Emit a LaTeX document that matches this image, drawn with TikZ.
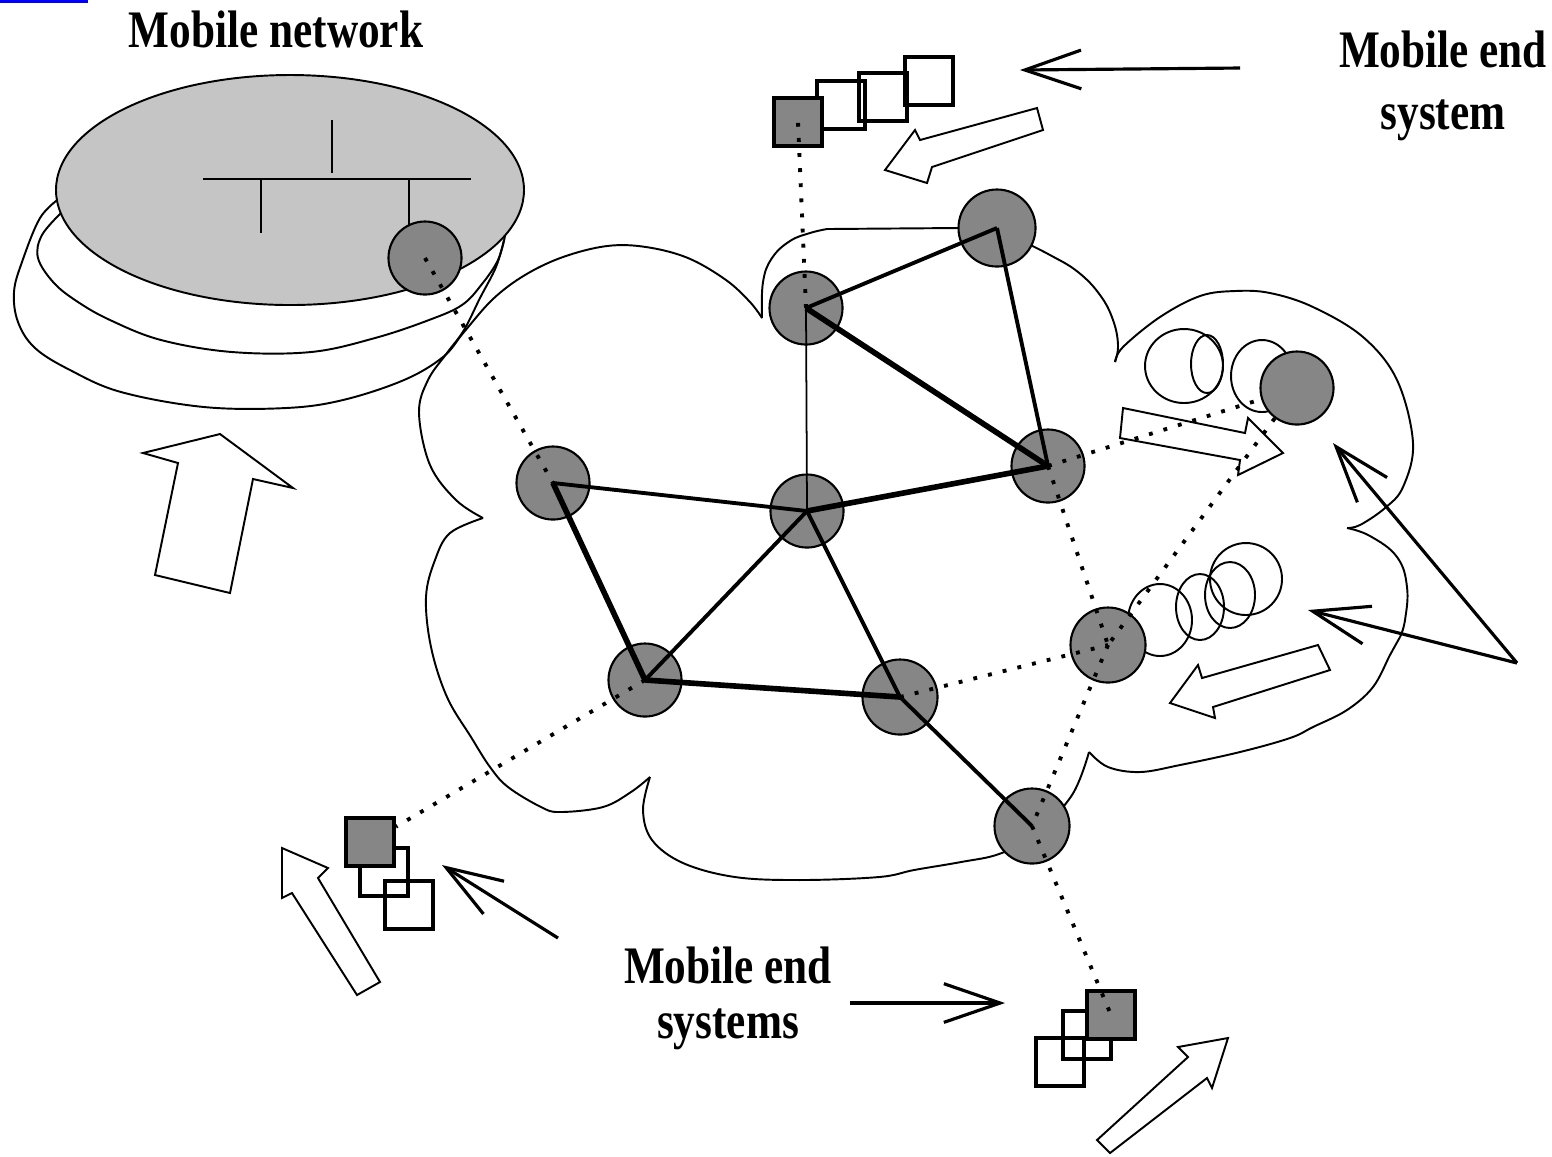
\documentclass[tikz,border=0pt]{standalone}
\usepackage{fontspec}
\newfontfamily\lblfont[FakeStretch=0.82]{Liberation Serif}
\usetikzlibrary{arrows.meta}
\definecolor{nodegray}{RGB}{134,134,134}
\definecolor{netgray}{RGB}{197,197,197}
\tikzset{
	netnode/.style={circle, draw, line width=0.6pt, fill=nodegray, minimum size=0.73cm, inner sep=0pt},
	endsys/.style={rectangle, draw, line width=1.1pt, minimum size=0.48cm, inner sep=0pt},
	cloudline/.style={line width=0.55pt},
	linkthin/.style={line width=0.5pt},
	link/.style={line width=1.1pt},
	linkthick/.style={line width=1.6pt},
	dotlink/.style={line width=1.1pt, dash pattern=on 1.1pt off 3.2pt},
	thinarrow/.style={line width=0.9pt, -{Straight Barb[length=16pt,width=11pt]}},
	blockarrow/.style={line width=0.55pt, line join=miter},
	lbl/.style={font={\lblfont\bfseries\fontsize{15}{17.5}\selectfont}, align=center, inner sep=0pt},
}

\begin{document}
\begin{tikzpicture}[x=0.01cm, y=-0.01cm]
		%%%%% START %%%%%
		\useasboundingbox (0,0) rectangle (1552,1156);
		\fill[blue] (0,0) rectangle (88,3);
		
		% mobile network
		\draw[cloudline] plot[smooth, tension=0.6] coordinates {(62,212) (42,235) (38,258) (54,283) (78,302) (110,320) (161,340) (232,352) (311,352) (375,338) (429,320) (462,305) (482,284) (498,260) (505,236)};
		\draw[cloudline] plot[smooth, tension=0.6] coordinates {(60,198) (40,218) (22,262) (14,292) (18,322) (35,348) (70,370) (121,392) (204,407) (286,408) (343,400) (404,380) (443,357) (464,332) (493,299) (525,275) (563,257) (607,246) (646,247) (688,258) (726,280) (750,302) (762,318)};
		\draw[line width=0.55pt, fill=netgray] (290,190) ellipse [x radius=234, y radius=115];
		\draw[line width=0.8pt] (203,179) -- (471,179);
		\draw[line width=0.8pt] (332,120) -- (332,173);
		\draw[line width=0.8pt] (261,179) -- (261,233);
		\draw[line width=0.8pt] (409,179) -- (409,226);
		
		% cloud
		\draw[cloudline] plot[smooth, tension=0.7] coordinates {(762,318) (763,282) (772,258) (790,241) (810,233) (827,229)} -- (958,228);
		\draw[cloudline] plot[smooth, tension=0.7] coordinates {(1020,240) (1050,255) (1078,272) (1100,295) (1113,320) (1118,345) (1115,362)};
		\draw[cloudline] plot[smooth, tension=0.6] coordinates {(1115,362) (1123,347) (1160,317) (1200,296) (1235,291) (1270,293) (1313,307) (1363,337) (1397,380) (1413,443) (1403,487) (1385,508) (1360,525) (1347,528)};
		\draw[cloudline] plot[smooth, tension=0.7] coordinates {(1347,528) (1370,536) (1397,557) (1407,587) (1405,620) (1400,637)};
		\draw[cloudline] plot[smooth, tension=0.6] coordinates {(1400,637) (1390,655) (1373,687) (1347,710) (1313,727) (1290,738) (1240,752) (1180,765) (1140,772) (1108,767) (1089,752)};
		\draw[cloudline] plot[smooth, tension=0.6] coordinates {(1089,752) (1072,795) (1035,835) (999,854) (961,862) (914,870) (879,877) (800,880) (735,877) (683,863) (652,840) (643,810) (650,777)};
		\draw[cloudline] plot[smooth, tension=0.6] coordinates {(650,777) (631,792) (603,807) (560,812) (541,807) (508,787) (490,767) (471,737) (447,697) (431,647) (426,597) (435,560) (450,533) (483,518)};
		\draw[cloudline] plot[smooth, tension=0.6] coordinates {(483,518) (456,500) (430,465) (419,413) (428,380) (447,353) (464,330) (480,298) (496,267) (504,240)};
		
		% rings
		\draw[cloudline] (1184,366) ellipse [x radius=39, y radius=37];
		\draw[cloudline] (1207,364) ellipse [x radius=16, y radius=29];
		\draw[cloudline] (1262,376) ellipse [x radius=31, y radius=36];
		\draw[cloudline] (1160,620) ellipse [x radius=32, y radius=36];
		\draw[cloudline] (1200,607) ellipse [x radius=24, y radius=33];
		\draw[cloudline] (1230,595) ellipse [x radius=25, y radius=33];
		\draw[cloudline] (1246,579) ellipse [x radius=36, y radius=36];
		
		% block arrows
		\draw[blockarrow] (220,434) -- (293,488) -- (253,479) -- (230,593) -- (155,575) -- (178,463) -- (143,453) -- cycle;
		\draw[blockarrow] (885,170) -- (915,130) -- (920,140) -- (1037,108) -- (1043,130) -- (932,167) -- (927,183) -- cycle;
		\draw[blockarrow] (1123,408) -- (1245,433) -- (1248,418) -- (1283,453) -- (1238,475) -- (1240,460) -- (1120,438) -- cycle;
		\draw[blockarrow] (1170,703) -- (1198,665) -- (1202,678) -- (1318,645) -- (1330,670) -- (1213,707) -- (1215,718) -- cycle;
		\draw[blockarrow] (282,848) -- (328,868) -- (318,878) -- (380,982) -- (357,995) -- (292,893) -- (282,898) -- cycle;
		\draw[blockarrow] (1228,1038) -- (1178,1047) -- (1188,1057) -- (1097,1140) -- (1110,1153) -- (1207,1078) -- (1212,1088) -- cycle;
		
		% nodes
		\node[netnode] (K) at (425,258) {};
		\node[netnode] (A) at (806,308) {};
		\node[netnode, minimum size=0.77cm] (B) at (997,228) {};
		\node[netnode] (C) at (1048,466) {};
		\node[netnode] (D) at (807,511) {};
		\node[netnode] (E) at (553,483) {};
		\node[netnode] (F) at (645,680) {};
		\node[netnode, minimum size=0.75cm] (G) at (900,697) {};
		\node[netnode, minimum size=0.75cm] (H) at (1108,645) {};
		\node[netnode, minimum size=0.75cm] (I) at (1032,826) {};
		\node[netnode] (J) at (1297,388) {};
		
		% links
		\draw[link] (A.center) -- (B.center);
		\draw[linkthick] (A.center) -- (C.center);
		\draw[link] (B.center) -- (C.center);
		\draw[linkthin] (A.center) -- (D.center);
		\draw[link] (E.center) -- (D.center);
		\draw[linkthick] (D.center) -- (C.center);
		\draw[linkthick] (E.center) -- (F.center);
		\draw[link] (D.center) -- (F.center);
		\draw[link] (D.center) -- (G.center);
		\draw[linkthick] (F.center) -- (G.center);
		\draw[link] (G.center) -- (I.center);
		
		% end systems
		\node[endsys] (top2) at (841,105) {};
		\node[endsys] (top3) at (883,97) {};
		\node[endsys] (top4) at (929,81) {};
		\node[endsys, fill=nodegray] (topsq) at (798,122) {};
		\node[endsys] (bl2) at (384,872) {};
		\node[endsys] (bl3) at (409,905) {};
		\node[endsys, fill=nodegray] (blsq) at (370,842) {};
		\node[endsys] (br2) at (1087,1035) {};
		\node[endsys] (br3) at (1060,1062) {};
		\node[endsys, fill=nodegray] (brsq) at (1111,1015) {};
		
		\draw[dotlink] (A.center) -- (topsq.center);
		\draw[dotlink] (K.center) -- (E.center);
		\draw[dotlink] (C.center) -- (J);
		\draw[dotlink] (C.center) -- (H.center);
		\draw[dotlink] (J) -- (H.center);
		\draw[dotlink] (G.center) -- (H.center);
		\draw[dotlink] (H.center) -- (I.center);
		\draw[dotlink] (F.center) -- (blsq);
		\draw[dotlink] (I.center) -- (brsq.center);
		
		% arrows
		\coordinate (topfrom) at (1240,68);
		\coordinate (topto) at (1020,70);
		\coordinate (botfrom) at (850,1003);
		\coordinate (botto) at (1005,1003);
		\coordinate (leftfrom) at (558,938);
		\coordinate (leftto) at (442,865);
		\coordinate (vtip) at (1517,663);
		\coordinate (vup) at (1333,443);
		\coordinate (vleft) at (1308,610);
		\draw[thinarrow] (topfrom) -- (topto);
		\draw[thinarrow] (botfrom) -- (botto);
		\draw[thinarrow] (leftfrom) -- (leftto);
		\draw[thinarrow] (vtip) -- (vup);
		\draw[thinarrow] (vtip) -- (vleft);
		
		% labels
		\node[lbl, anchor=base] (mobnet) at (276,47) {Mobile network};
		\node[lbl] (mesys) at (1443,86) {Mobile end\\system};
		\node[lbl, font={\lblfont\bfseries\fontsize{15}{15.6}\selectfont}] (mesyss) at (728,998) {Mobile end\\systems};
		
		%%%%% END %%%%%
\end{tikzpicture}
\end{document}
